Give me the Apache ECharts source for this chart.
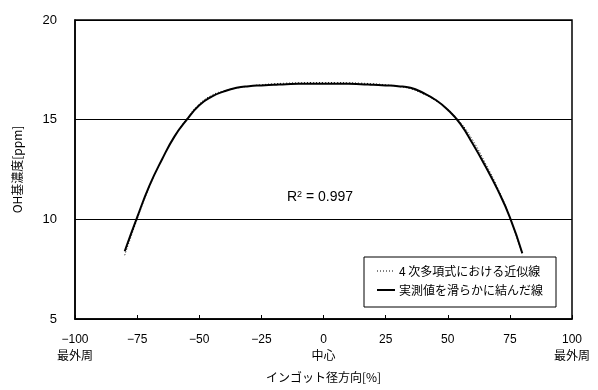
<!DOCTYPE html>
<html><head><meta charset="utf-8">
<script src="https://cdn.jsdelivr.net/npm/echarts@6/dist/echarts.min.js"></script>
<style>html,body{margin:0;padding:0;background:#fff}#c{width:598px;height:390px}</style>
</head><body><div id="c"></div>
<script>
const xPositions = [-80,-75,-70,-65,-60,-55,-50,-45,-40,-35,-30,-25,-20,-15,-10,-5,0,5,10,15,20,25,30,35,40,45,50,55,60,65,70,75,80];
const measured = [8.4,10.1,11.7,13.0,14.15,15.0,15.72,16.15,16.42,16.6,16.68,16.72,16.75,16.78,16.8,16.8,16.8,16.8,16.8,16.78,16.75,16.72,16.68,16.6,16.35,16.0,15.5,14.8,13.8,12.7,11.5,10.1,8.3];
const polyFit = [8.2,10.0,11.65,13.0,14.15,15.05,15.78,16.22,16.45,16.58,16.68,16.75,16.8,16.83,16.85,16.86,16.86,16.86,16.85,16.83,16.8,16.75,16.67,16.55,16.3,15.97,15.52,14.88,13.98,12.85,11.6,10.1,8.2];
const xTickLabels = {"-100":"−100\n最外周","-75":"−75","-50":"−50","-25":"−25","0":"0\n中心","25":"25","50":"50","75":"75","100":"100\n最外周"};
const seriesNames = ["4 次多項式における近似線","実測値を滑らかに結んだ線"];
const r2Text = "0.997";

const chart = echarts.init(document.getElementById('c'), null, {renderer:'canvas'});
const font = "'Liberation Sans','Noto Sans CJK JP',sans-serif";
const jfont = "'Noto Sans CJK JP',sans-serif";
chart.setOption({
  animation:false,
  backgroundColor:'#fff',
  textStyle:{fontFamily:font,color:'#000'},
  grid:{left:75,right:26,top:20,bottom:71,show:true,borderColor:'#000',borderWidth:1.5,backgroundColor:'transparent'},
  xAxis:{type:'value',min:-100,max:100,interval:25,
    axisLine:{show:true,onZero:false,lineStyle:{color:'#000',width:1.5}},
    axisTick:{show:true,inside:true,length:4,lineStyle:{color:'#000'}},
    splitLine:{show:false},
    axisLabel:{color:'#000',fontSize:12,fontFamily:font,margin:12,lineHeight:17,
      formatter:v=>xTickLabels[String(v)]||String(v)},
    name:'インゴット径方向[%]',nameLocation:'middle',nameGap:52,
    nameTextStyle:{color:'#000',fontSize:12,fontFamily:jfont}
  },
  yAxis:{type:'value',min:5,max:20,interval:5,
    axisLine:{show:true,onZero:false,lineStyle:{color:'#000',width:1.5}},
    axisTick:{show:true,inside:true,length:4,lineStyle:{color:'#000'}},
    splitLine:{show:true,lineStyle:{color:'#000',width:1}},
    axisLabel:{color:'#000',fontSize:13,fontFamily:font,margin:18},
    name:'OH基濃度[ppm]',nameLocation:'middle',nameGap:52,nameRotate:90,
    nameTextStyle:{color:'#000',fontSize:12,fontFamily:jfont}
  },
  graphic:[
    {type:'rect',shape:{x:364,y:257,width:192,height:50},style:{fill:'#fff',stroke:'#000',lineWidth:1},z:20},
    {type:'line',shape:{x1:377,y1:271,x2:395,y2:271},style:{stroke:'#000',lineWidth:1,lineDash:[1,2]},z:21},
    {type:'line',shape:{x1:377,y1:290,x2:395,y2:290},style:{stroke:'#000',lineWidth:2},z:21},
    {type:'text',x:399,y:271,style:{text:seriesNames[0],font:"12px 'Noto Sans CJK JP',sans-serif",fill:'#000',verticalAlign:'middle'},z:21},
    {type:'text',x:399,y:290,style:{text:seriesNames[1],font:"12px 'Noto Sans CJK JP',sans-serif",fill:'#000',verticalAlign:'middle'},z:21},
    {type:'text',left:287,top:190,style:{rich:{a:{fontSize:14,fontFamily:font,fill:'#000'},s:{fontSize:9,fontFamily:font,fill:'#000',verticalAlign:'top',padding:[0,0,6,0]}},text:'{a|R}{s|2}{a| = '+r2Text+'}'},z:10}
  ],
  series:[
    {name:seriesNames[0],type:'line',smooth:true,symbol:'none',z:3,
      lineStyle:{color:'#000',width:1,type:[1,2]},
      data:xPositions.map((x,i)=>[x,polyFit[i]])},
    {name:seriesNames[1],type:'line',smooth:true,symbol:'none',z:4,
      lineStyle:{color:'#000',width:2},
      data:xPositions.map((x,i)=>[x,measured[i]])}
  ]
});
</script></body></html>
